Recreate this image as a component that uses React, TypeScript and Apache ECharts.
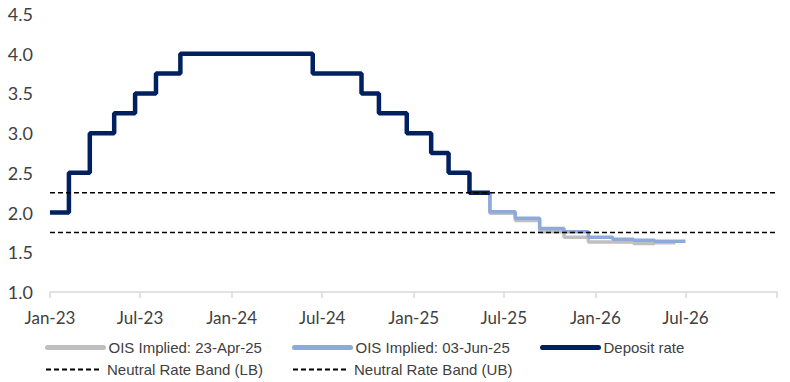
import React, { useEffect, useRef } from "react";
import * as echarts from "echarts";

const depositDates = [
  "2023-01-01", "2023-02-08", "2023-03-22", "2023-05-10", "2023-06-21", "2023-08-02",
  "2023-09-20", "2024-06-12", "2024-09-18", "2024-10-23", "2024-12-18", "2025-02-05",
  "2025-03-12", "2025-04-23", "2025-06-03",
];
const depositValues = [2.0, 2.5, 3.0, 3.25, 3.5, 3.75, 4.0, 3.75, 3.5, 3.25, 3.0, 2.75, 2.5, 2.25, 2.25];

const oisAprDates = [
  "2025-06-03", "2025-06-03", "2025-07-24", "2025-09-11", "2025-10-30", "2025-12-18",
  "2026-02-05", "2026-03-19", "2026-04-30", "2026-06-11",
];
const oisAprValues = [2.25, 1.99, 1.9, 1.76, 1.69, 1.63, 1.63, 1.61, 1.62, 1.62];

const oisJunDates = [
  "2025-06-03", "2025-06-03", "2025-07-24", "2025-09-11", "2025-10-30", "2025-12-18",
  "2026-02-05", "2026-03-19", "2026-04-30", "2026-07-01",
];
const oisJunValues = [2.25, 2.01, 1.93, 1.8, 1.76, 1.69, 1.665, 1.65, 1.64, 1.64];

const bandDates = ["2023-01-01", "2027-01-01"];
const bandLB = [1.75, 1.75];
const bandUB = [2.25, 2.25];

const seriesNames = [
  "OIS Implied: 23-Apr-25",
  "OIS Implied: 03-Jun-25",
  "Deposit rate",
  "Neutral Rate Band (LB)",
  "Neutral Rate Band (UB)",
];
const MONTHS = ["Jan", "Feb", "Mar", "Apr", "May", "Jun", "Jul", "Aug", "Sep", "Oct", "Nov", "Dec"];

const zip = (d: string[], v: number[]) => d.map((x, i) => [x, v[i]]);

export default function App() {
  const ref = useRef<HTMLDivElement>(null);
  useEffect(() => {
    if (!ref.current) return;
    const chart = echarts.init(ref.current, null, { renderer: "svg" });
    const legendFont = { fontFamily: "Liberation Sans", fontSize: 15, color: "#404040" };
    const mkLegend = (name: string, left: number, top: number, ls: any) => ({
      data: [name],
      left,
      top,
      itemWidth: 56,
      itemHeight: 12,
      itemGap: 0,
      padding: 0,
      textStyle: legendFont,
      lineStyle: ls,
      itemStyle: { opacity: 0 },
      selectedMode: false,
    });
    chart.setOption({
      animation: false,
      grid: { left: 50, right: 13, top: 14, bottom: 90 },
      legend: [
        mkLegend(seriesNames[0], 45, 340, { width: 5, cap: "round" }),
        mkLegend(seriesNames[1], 292, 340, { width: 5, cap: "round" }),
        mkLegend(seriesNames[2], 540, 340, { width: 5, cap: "round" }),
        mkLegend(seriesNames[3], 45, 362, { width: 2, type: [5, 3] }),
        mkLegend(seriesNames[4], 292, 362, { width: 2, type: [5, 3] }),
      ],
      xAxis: {
        type: "time",
        min: "2023-01-01",
        max: "2027-01-01",
        minInterval: 180 * 86400000,
        maxInterval: 186 * 86400000,
        splitLine: { show: false },
        axisLine: { show: true, lineStyle: { color: "#d9d9d9", width: 1.5 } },
        axisTick: { show: true, length: 6, lineStyle: { color: "#d9d9d9", width: 1.5 } },
        axisLabel: {
          fontFamily: "Lato",
          fontSize: 17,
          color: "#404040",
          margin: 17,
          hideOverlap: false,
          showMinLabel: true,
          showMaxLabel: true,
          formatter: (val: number) => {
            const d = new Date(val);
            if (d.getFullYear() >= 2027) return "";
            return MONTHS[d.getMonth()] + "-" + String(d.getFullYear()).slice(2);
          },
        },
      },
      yAxis: {
        type: "value",
        min: 1,
        max: 4.5,
        interval: 0.5,
        splitLine: { show: false },
        axisLine: { show: false },
        axisTick: { show: false },
        axisLabel: {
          fontFamily: "Lato",
          fontSize: 18,
          color: "#404040",
          margin: 17,
          formatter: (v: number) => v.toFixed(1),
        },
      },
      series: [
        {
          name: seriesNames[0],
          type: "line",
          step: "end",
          symbol: "none",
          data: zip(oisAprDates, oisAprValues),
          lineStyle: { color: "#BFBFBF", width: 3.5 },
          itemStyle: { color: "#BFBFBF" },
        },
        {
          name: seriesNames[1],
          type: "line",
          step: "end",
          symbol: "none",
          data: zip(oisJunDates, oisJunValues),
          lineStyle: { color: "#8EA9DB", width: 3.5 },
          itemStyle: { color: "#8EA9DB" },
        },
        {
          name: seriesNames[2],
          type: "line",
          step: "end",
          symbol: "none",
          data: zip(depositDates, depositValues),
          lineStyle: { color: "#002060", width: 4.5 },
          itemStyle: { color: "#002060" },
        },
        {
          name: seriesNames[3],
          type: "line",
          symbol: "none",
          data: zip(bandDates, bandLB),
          lineStyle: { color: "#000000", width: 1.5, type: [5, 3] },
          itemStyle: { color: "#000000" },
        },
        {
          name: seriesNames[4],
          type: "line",
          symbol: "none",
          data: zip(bandDates, bandUB),
          lineStyle: { color: "#000000", width: 1.5, type: [5, 3] },
          itemStyle: { color: "#000000" },
        },
      ],
    });
    return () => chart.dispose();
  }, []);
  return <div ref={ref} style={{ width: 790, height: 382, position: "absolute", left: 0, top: 0 }} />;
}
